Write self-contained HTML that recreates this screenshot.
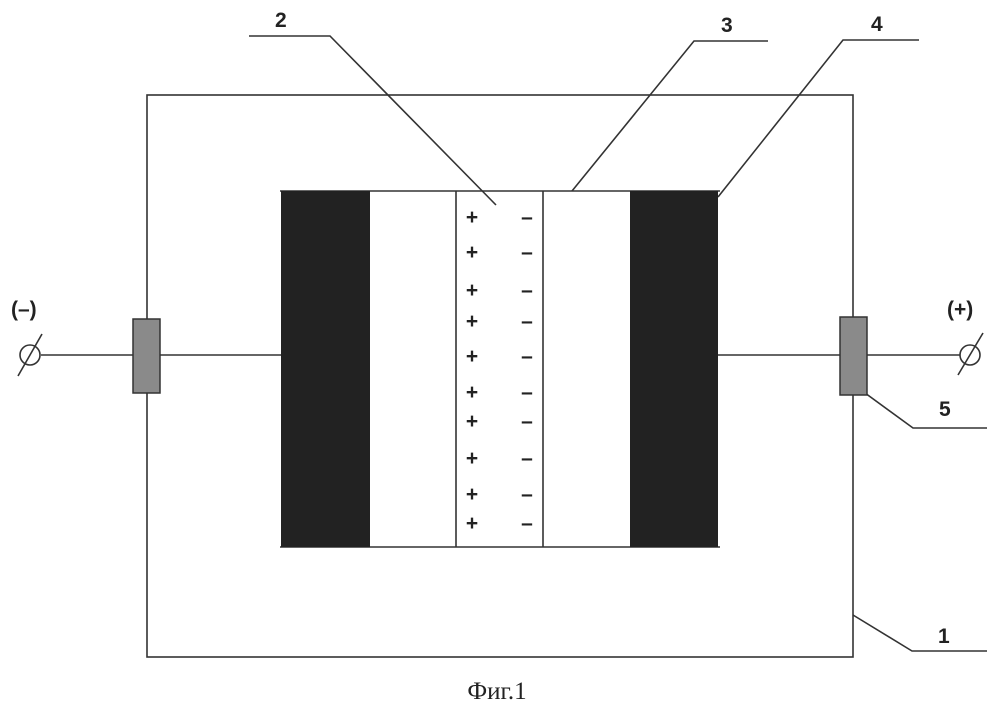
<!DOCTYPE html>
<html><head><meta charset="utf-8"><style>
html,body{margin:0;padding:0;background:#fff;width:995px;height:710px;overflow:hidden}
svg{display:block}
.l{font-family:"Liberation Sans",sans-serif;font-weight:bold;font-size:21px;fill:#222}
.pm{font-family:"Liberation Sans",sans-serif;font-weight:bold;font-size:21px;fill:#222;text-anchor:middle}
</style></head><body>
<svg width="995" height="710" viewBox="0 0 995 710">
<g stroke="#333" stroke-width="1.6" fill="none">
<rect x="147" y="95" width="706" height="562"/>
<line x1="280" y1="191" x2="720" y2="191"/>
<line x1="280" y1="547" x2="720" y2="547"/>
<line x1="456" y1="191" x2="456" y2="547"/>
<line x1="543" y1="191" x2="543" y2="547"/>
<line x1="41" y1="355" x2="282" y2="355"/>
<line x1="718" y1="355" x2="960" y2="355"/>
<circle cx="30" cy="355" r="10"/>
<line x1="18" y1="376" x2="42" y2="334"/>
<circle cx="970" cy="355" r="10"/>
<line x1="958" y1="375" x2="983" y2="333"/>
<polyline points="249,36 330,36 496,205"/>
<polyline points="768,41 694,41 572,191"/>
<polyline points="919,40 843,40 718,197"/>
<polyline points="850,382 913,428 987,428"/>
<polyline points="853,615 912,651 987,651"/>
</g>
<rect x="281" y="191" width="89" height="356" fill="#222"/>
<rect x="630" y="191" width="88" height="356" fill="#222"/>
<rect x="133" y="319" width="27" height="74" fill="#8a8a8a" stroke="#333" stroke-width="1.5"/>
<rect x="840" y="317" width="27" height="78" fill="#8a8a8a" stroke="#333" stroke-width="1.5"/>
<g class="pm">
<text x="472" y="224">+</text><text x="527" y="224">–</text>
<text x="472" y="259">+</text><text x="527" y="259">–</text>
<text x="472" y="297">+</text><text x="527" y="297">–</text>
<text x="472" y="328">+</text><text x="527" y="328">–</text>
<text x="472" y="363">+</text><text x="527" y="363">–</text>
<text x="472" y="399">+</text><text x="527" y="399">–</text>
<text x="472" y="428">+</text><text x="527" y="428">–</text>
<text x="472" y="465">+</text><text x="527" y="465">–</text>
<text x="472" y="501">+</text><text x="527" y="501">–</text>
<text x="472" y="530">+</text><text x="527" y="530">–</text>
</g>
<text class="l" x="275" y="27">2</text>
<text class="l" x="721" y="32">3</text>
<text class="l" x="871" y="31">4</text>
<text class="l" x="939" y="416">5</text>
<text class="l" x="938" y="643">1</text>
<text class="l" x="11" y="316">(–)</text>
<text class="l" x="947" y="316">(+)</text>
<text x="497" y="699" text-anchor="middle" font-family="Liberation Serif,serif" font-size="25" fill="#222">Фиг.1</text>
</svg>
</body></html>
